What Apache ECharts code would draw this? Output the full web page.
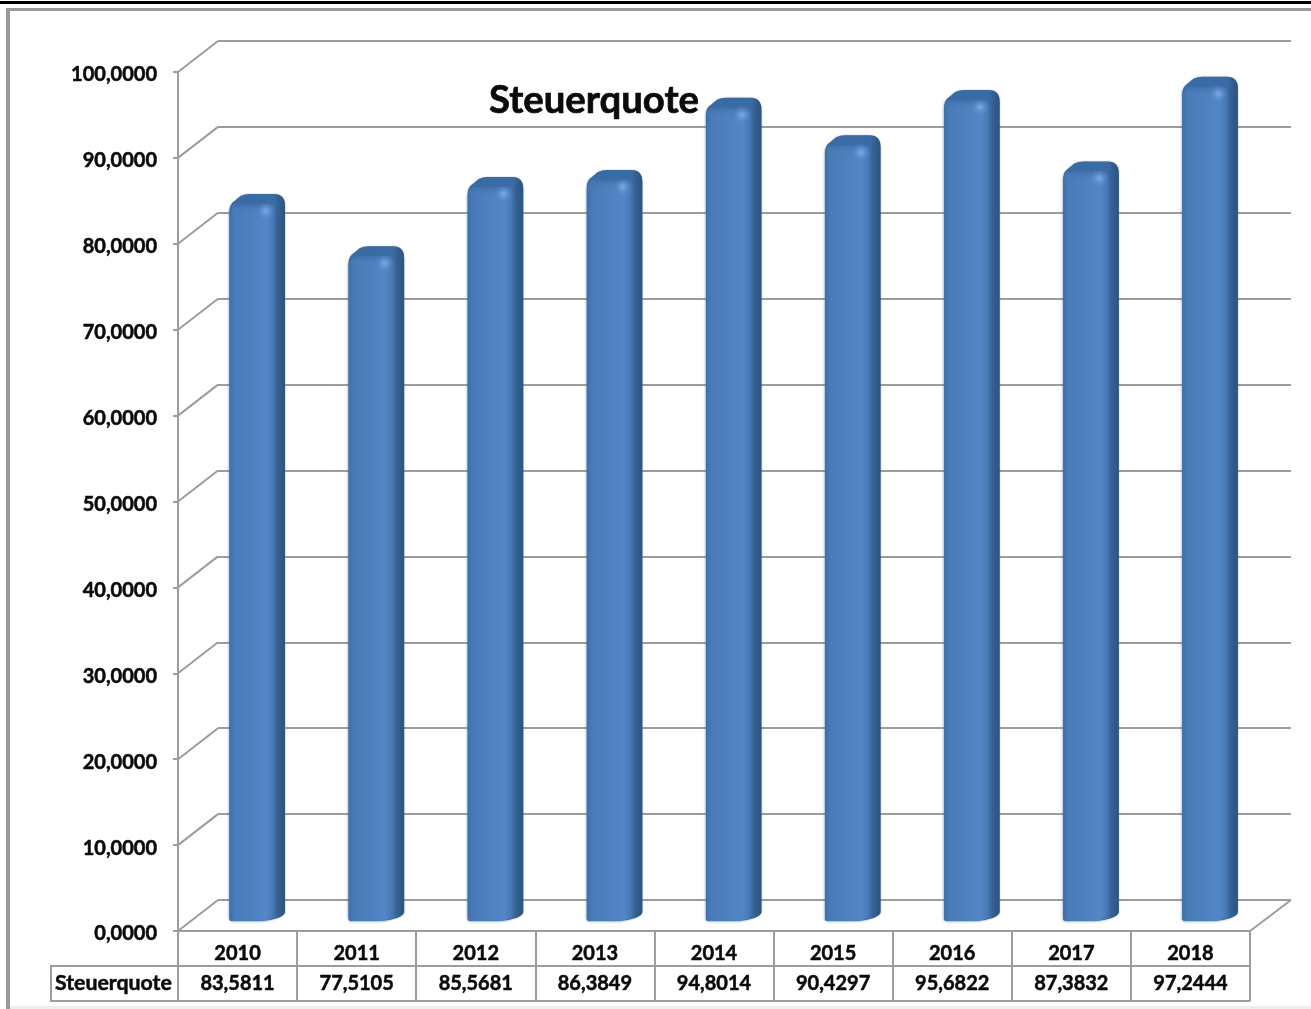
<!DOCTYPE html>
<html><head><meta charset="utf-8">
<style>html,body{margin:0;padding:0;background:#fff}#c{width:1311px;height:1009px}</style>
<script src="https://cdn.jsdelivr.net/npm/echarts@6/dist/echarts.min.js"></script>
</head><body><div id="c"></div>
<script>
const years = ['2010','2011','2012','2013','2014','2015','2016','2017','2018'];
const values = [83.5811,77.5105,85.5681,86.3849,94.8014,90.4297,95.6822,87.3832,97.2444];
const yTicks = [0,10,20,30,40,50,60,70,80,90,100];
const seriesName = 'Steuerquote';
const fmt = (v,d) => v.toFixed(d).replace('.',',');
const GRID = '#9c9c9c', FONT = 'Lato, "Open Sans", sans-serif', INK = '#0a0a0a';
const chart = echarts.init(document.getElementById('c'), null, {renderer:'canvas'});

function renderBar(params, api){
  const i = api.value(0), v = api.value(1);
  const top = api.coord([i, v]), base = api.coord([i, 0]);
  const cx = top[0];
  const L = cx - 8, F = cx + 38, R = cx + 47.5;
  const T = top[1] - 10, B = base[1] - 10;
  const silhouette = `M${L} ${B-2}L${L} ${T+8}Q${L} ${T+1} ${L+5} ${T-2}L${L+11} ${T-7}Q${L+15} ${T-9} ${L+20} ${T-9}L${R-11} ${T-9}Q${R} ${T-9} ${R} ${T+3}L${R} ${B-9}Q${R} ${B-6} ${R-7} ${B-3}Q${R-16} ${B} ${R-26} ${B}L${L+4} ${B}Q${L} ${B} ${L} ${B-2}Z`;
  const front = `M${L} ${B-2}L${L} ${T+10}Q${L} ${T+1} ${L+9} ${T+1}L${F-8} ${T+1}Q${F} ${T+1} ${F} ${T+9}L${F} ${B-4}Q${F-8} ${B} ${F-18} ${B}L${L+4} ${B}Q${L} ${B} ${L} ${B-2}Z`;
  return {type:'group', children:[
    {type:'path', shape:{pathData:silhouette},
     style:{fill:{type:'linear',x:0,y:0,x2:1,y2:0,colorStops:[{offset:0,color:'#3a6ba6'},{offset:0.82,color:'#3b6ba5'},{offset:0.88,color:'#34608f'},{offset:1,color:'#2d5382'}]},shadowBlur:1.5,shadowColor:'rgba(50,90,140,0.6)'}},
    {type:'path', shape:{pathData:front},
     style:{fill:{type:'linear',x:0,y:0,x2:1,y2:0,colorStops:[{offset:0,color:'#3f70aa'},{offset:0.12,color:'#487bb8'},{offset:0.5,color:'#4f81bf'},{offset:0.8,color:'#5486c6'},{offset:0.93,color:'#4a7bb6'},{offset:1,color:'#3e6ca3'}]},shadowBlur:3,shadowColor:'rgba(60,105,160,0.8)'}},
    {type:'rect', shape:{x:L+1, y:T+1, width:F-L-2, height:10, r:[8,8,0,0]},
     style:{fill:{type:'linear',x:0,y:0,x2:0,y2:1,colorStops:[{offset:0,color:'rgba(58,107,166,0.75)'},{offset:1,color:'rgba(79,129,191,0)'}]}}},
    {type:'circle', shape:{cx:F-10, cy:T+8, r:9},
     style:{fill:{type:'radial',x:0.5,y:0.5,r:0.5,colorStops:[{offset:0,color:'rgba(125,175,235,0.95)'},{offset:0.45,color:'rgba(110,160,222,0.5)'},{offset:1,color:'rgba(90,140,205,0)'}]}}}
  ]};
}
function renderDiag(params, api){
  const v = api.value(0);
  const p = api.coord([0, v]), w = api.size([1,0])[0];
  const x = p[0] - w/2, y = p[1];
  const kids = [{type:'line', shape:{x1:x, y1:y, x2:x+40, y2:y-31}, style:{stroke:GRID, lineWidth:2}}];
  if (v === 0) {
    const xr = x + w*years.length;
    kids.push({type:'line', shape:{x1:xr, y1:y, x2:xr+41, y2:y-31}, style:{stroke:GRID, lineWidth:2}});
  }
  return {type:'group', children:kids};
}
const heavy = {stroke:INK, lineWidth:0.5};
function renderCell(params, api){
  const i = api.value(0), v = api.value(1);
  const p = api.coord([i, 0]), w = api.size([1,0])[0];
  const kids = [
    {type:'line', shape:{x1:p[0]-w/2, y1:p[1]+35, x2:p[0]+w/2, y2:p[1]+35}, style:{stroke:GRID, lineWidth:2}},
    {type:'line', shape:{x1:p[0]-w/2, y1:p[1]+70, x2:p[0]+w/2, y2:p[1]+70}, style:{stroke:GRID, lineWidth:2}},
    {type:'text', x:p[0], y:p[1]+53, style:Object.assign({text:fmt(v,4), fill:INK, font:'bold 20px '+FONT, align:'center', verticalAlign:'middle'},heavy)}
  ];
  if (i === 0) {
    const x0 = p[0]-w/2;
    kids.push(
      {type:'rect', shape:{x:51, y:p[1]+35, width:x0-51, height:35}, style:{fill:'transparent', stroke:GRID, lineWidth:2}},
      {type:'text', x:55, y:p[1]+52, style:Object.assign({text:seriesName, fill:INK, font:'bold 21.3px '+FONT, align:'left', verticalAlign:'middle'},heavy)}
    );
  }
  return {type:'group', children:kids};
}
chart.setOption({
  animation:false,
  backgroundColor:'#fff',
  title:{text:seriesName, left:489, top:78, textStyle:{fontFamily:FONT, fontWeight:'bold', fontSize:38.3, color:INK, lineHeight:46, textBorderColor:INK, textBorderWidth:0.7}, padding:0, z:20},
  graphic:[
    {type:'rect', shape:{x:0,y:1,width:1311,height:3}, style:{fill:'#000'}, silent:true},
    {type:'rect', shape:{x:6,y:8,width:1305,height:3}, style:{fill:'#9a9a9a'}, silent:true},
    {type:'rect', shape:{x:6,y:8,width:4,height:1001}, style:{fill:'#9a9a9a'}, silent:true},
    {type:'rect', shape:{x:10,y:1006,width:1301,height:3}, style:{fill:'#eeeeee'}, silent:true}
  ],
  grid:[
    {left:178, top:72, width:1072, height:859},
    {left:218, top:41, width:1073, height:859}
  ],
  xAxis:[
    {type:'category', gridIndex:0, data:years, boundaryGap:true,
     axisLine:{show:true,lineStyle:{color:GRID,width:2}},
     axisTick:{show:true,length:70,alignWithLabel:false,lineStyle:{color:GRID,width:2}},
     axisLabel:{show:true,margin:13,color:INK,fontFamily:FONT,fontWeight:'bold',fontSize:20,interval:0,textBorderColor:INK,textBorderWidth:0.5},
     splitLine:{show:false}},
    {type:'category', gridIndex:1, data:years, show:false}
  ],
  yAxis:[
    {type:'value', gridIndex:0, min:0, max:100, interval:10,
     axisLine:{show:true,lineStyle:{color:GRID,width:2}},
     axisTick:{show:true,length:5,lineStyle:{color:GRID,width:2}},
     axisLabel:{margin:21,color:INK,fontFamily:FONT,fontWeight:'bold',fontSize:20,verticalAlign:'top',lineHeight:6,textBorderColor:INK,textBorderWidth:0.5,formatter:v=>fmt(v,4)},
     splitLine:{show:false}},
    {type:'value', gridIndex:1, min:0, max:100, interval:10,
     axisLine:{show:false}, axisTick:{show:false}, axisLabel:{show:false},
     splitLine:{show:true,lineStyle:{color:GRID,width:2}}}
  ],
  series:[
    {type:'custom', name:'diag', xAxisIndex:0, yAxisIndex:0, z:2, silent:true,
     data:yTicks.map(v=>[v]), renderItem:renderDiag, encode:{y:0}},
    {type:'custom', name:seriesName, xAxisIndex:0, yAxisIndex:0, z:5, silent:true,
     data:values.map((v,i)=>[i,v]), renderItem:renderBar, encode:{x:0,y:1}},
    {type:'custom', name:'table', xAxisIndex:0, yAxisIndex:0, z:6, silent:true,
     data:values.map((v,i)=>[i,v]), renderItem:renderCell, encode:{x:0,y:1}}
  ]
});
</script></body></html>
